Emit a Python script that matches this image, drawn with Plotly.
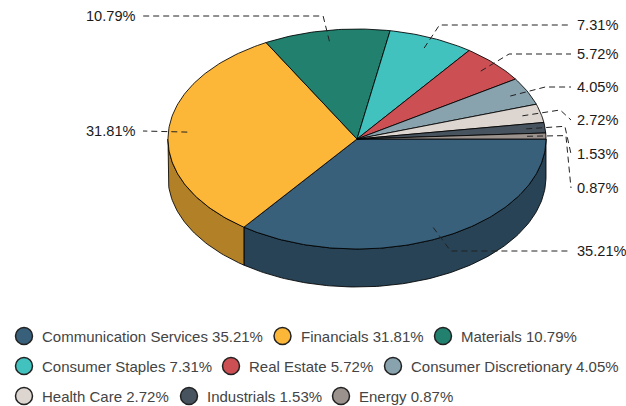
import numpy as np
import plotly.graph_objects as go

# Sector weights (percent)
sectors = ["Communication Services", "Financials", "Materials", "Consumer Staples",
           "Real Estate", "Consumer Discretionary", "Health Care", "Industrials", "Energy"]
weights = [35.21, 31.81, 10.79, 7.31, 5.72, 4.05, 2.72, 1.53, 0.87]
colors = ["#38607A", "#FDB738", "#22806F", "#42C2BE", "#CC4F53",
          "#88A2AE", "#DDD6D0", "#47535E", "#9B928D"]

# Geometry of the tilted pie (pixel space, y grows downward)
W, H = 626, 406
CX, CY = 357, 139
RX, RY = 189, 110
DEPTH = 38

# Vertical slots of the outside labels after de-overlapping
label_slots = [251, 131, 16, 25, 54, 87, 120, 154, 188]


def darker(hexcol, f=0.7):
    h = hexcol.lstrip("#")
    r, g, b = (int(h[i:i + 2], 16) for i in (0, 2, 4))
    return "rgb(%d,%d,%d)" % (r * f, g * f, b * f)


def arc(a0, a1, rx=RX, ry=RY, dy=0.0):
    n = max(3, int(abs(a1 - a0) / np.pi * 180))
    t = np.linspace(a0, a1, n)
    return CX + rx * np.cos(t), CY + dy + ry * np.sin(t)


total = sum(weights)
bounds = np.concatenate([[0], np.cumsum(weights)]) / total * 2 * np.pi

fig = go.Figure()
edge = dict(color="rgba(0,0,0,0.85)", width=1)

# Side walls: only the front half (0..pi) is visible
for i, (a0, a1) in enumerate(zip(bounds[:-1], bounds[1:])):
    s0, s1 = max(a0, 0.0), min(a1, np.pi)
    if s1 <= s0:
        continue
    tx, ty = arc(s0, s1)
    bx, by = arc(s1, s0, dy=DEPTH)
    fig.add_trace(go.Scatter(x=np.concatenate([tx, bx, tx[:1]]),
                             y=np.concatenate([ty, by, ty[:1]]),
                             mode="lines", fill="toself", fillcolor=darker(colors[i]),
                             line=edge, hoverinfo="skip", showlegend=False))

# Top faces
for i, (a0, a1) in enumerate(zip(bounds[:-1], bounds[1:])):
    ax, ay = arc(a0, a1)
    fig.add_trace(go.Scatter(x=np.concatenate([[CX], ax, [CX]]),
                             y=np.concatenate([[CY], ay, [CY]]),
                             mode="lines", fill="toself", fillcolor=colors[i],
                             line=edge, hoverinfo="skip", showlegend=False))

# Outside labels with dashed leader lines
mids = (bounds[:-1] + bounds[1:]) / 2
LAB_RY = RY + 14
BEND_RX = RX + 20

for i, m in enumerate(mids):
    right = np.cos(m) >= 0
    sx, sy = CX + 0.9 * RX * np.cos(m), CY + 0.9 * RY * np.sin(m)
    bx, by = CX + BEND_RX * np.cos(m), CY + LAB_RY * np.sin(m)
    tx = CX + RX + 29 if right else CX - RX - 30
    ex = tx - 4 if right else tx + 5
    ly = label_slots[i]
    if abs(ly - by) < 3:
        xs, ys = [sx, bx, ex], [sy, ly, ly]
    else:
        xs, ys = [sx, bx, ex], [sy, by, ly]
    fig.add_trace(go.Scatter(x=xs, y=ys, mode="lines",
                             line=dict(color="#222", width=1, dash="6px,4px"),
                             hoverinfo="skip", showlegend=False))
    fig.add_annotation(x=tx, y=ly, text="%.2f%%" % weights[i], showarrow=False,
                       xanchor="left" if right else "right", yanchor="middle",
                       font=dict(size=14.6, color="#1a1a1a"))

# Legend laid out in three rows of three
legend_rows = [336, 366, 396]
legend_cols = [[24, 282.5, 443], [24, 231, 393], [24, 189, 341]]
for i, name in enumerate(sectors):
    r, c = divmod(i, 3)
    mx, my = legend_cols[r][c], legend_rows[r]
    fig.add_trace(go.Scatter(x=[mx], y=[my], mode="markers",
                             marker=dict(size=17, color=colors[i],
                                         line=dict(color="#222", width=1.5)),
                             hoverinfo="skip", showlegend=False))
    fig.add_annotation(x=mx + 16, y=my, text="%s %.2f%%" % (name, weights[i]),
                       showarrow=False, xanchor="left", yanchor="middle",
                       font=dict(size=15, color="#444"))

fig.update_layout(
    width=W, height=H, margin=dict(l=0, r=0, t=0, b=0),
    paper_bgcolor="white", plot_bgcolor="white",
    font=dict(family="Liberation Sans, Arial, sans-serif"),
    xaxis=dict(range=[0, W], visible=False, fixedrange=True),
    yaxis=dict(range=[H, 0], visible=False, fixedrange=True),
)

fig.write_html("out.html")
